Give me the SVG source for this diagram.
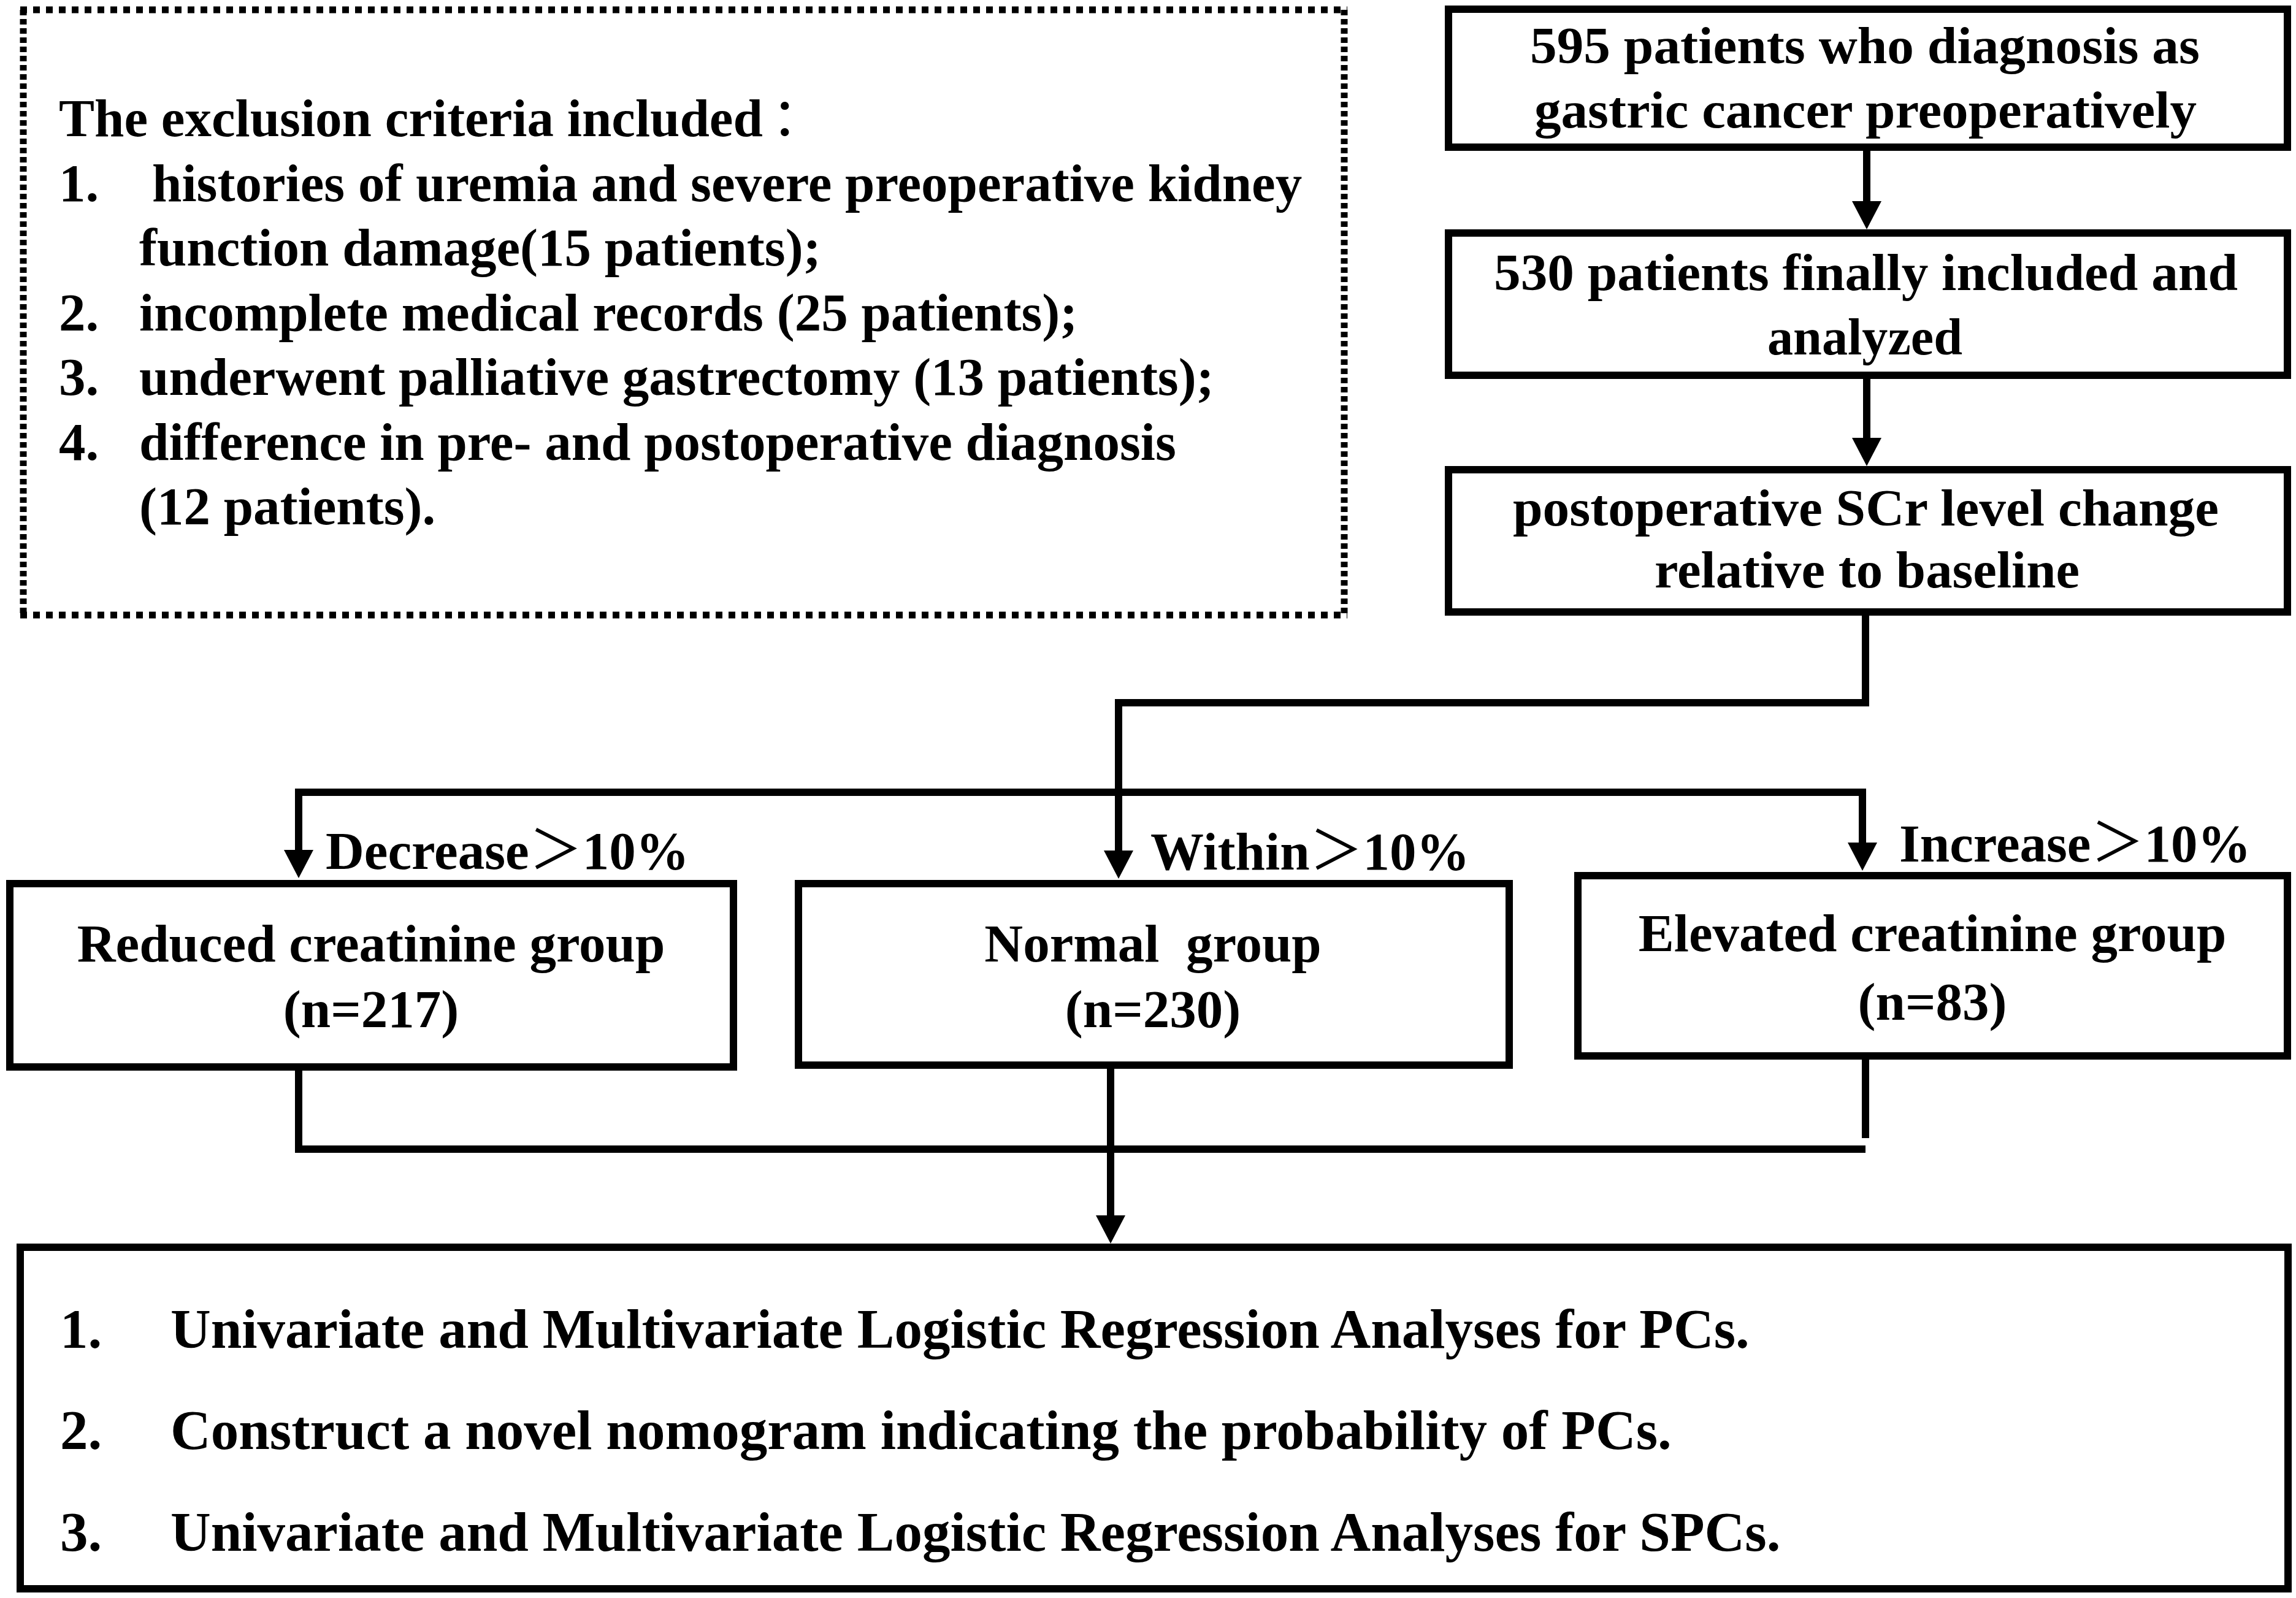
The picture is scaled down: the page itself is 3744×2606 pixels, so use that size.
<svg xmlns="http://www.w3.org/2000/svg" width="3744" height="2606" viewBox="0 0 3744 2606">
<style>
.t{font-family:"Liberation Serif","Times New Roman",serif;font-weight:bold;fill:#000}
.cjk{font-family:"Noto Sans CJK SC",sans-serif;font-weight:normal}
.box{fill:#fff;stroke:#000;stroke-width:12}
.dh{fill:none;stroke:#000;stroke-width:11;stroke-dasharray:11 10}
.dv{fill:none;stroke:#000;stroke-width:11;stroke-dasharray:9 6}
.conn{fill:none;stroke:#000;stroke-width:12;stroke-linejoin:miter}
.s87{font-size:87px}
.s85{font-size:85px}
.s91{font-size:91px}
</style>
<defs>
<marker id="ah" markerUnits="userSpaceOnUse" viewBox="0 0 46 48" markerWidth="46" markerHeight="48" refX="0" refY="24" orient="auto">
<path d="M0,0 L46,24 L0,48 z" fill="#000"/>
</marker>
</defs>
<rect width="3744" height="2606" fill="#fff"/>

<g id="exclusion">
<path class="dh" d="M33,16 H2197 M33,1003 H2197"/>
<path class="dv" d="M38,16 V1003 M2192,16 V1003"/>
<text class="t s87" x="96" y="222">The exclusion criteria included<tspan class="cjk" dx="14">：</tspan></text>
<text class="t s87" x="96" y="328">1.</text>
<text class="t s87" x="248" y="328">histories of uremia and severe preoperative kidney</text>
<text class="t s87" x="227" y="433">function damage(15 patients);</text>
<text class="t s87" x="96" y="539">2.</text>
<text class="t s87" x="227" y="539">incomplete medical records (25 patients);</text>
<text class="t s87" x="96" y="644">3.</text>
<text class="t s87" x="227" y="644">underwent palliative gastrectomy (13 patients);</text>
<text class="t s87" x="96" y="750">4.</text>
<text class="t s87" x="227" y="750">difference in pre- and postoperative diagnosis</text>
<text class="t s87" x="227" y="855">(12 patients).</text>
</g>

<g id="n595">
<rect class="box" x="2362" y="15" width="1368" height="225"/>
<text class="t s85" x="2495" y="103" textLength="1092" lengthAdjust="spacingAndGlyphs">595 patients who diagnosis as</text>
<text class="t s85" x="2502" y="208" textLength="1080" lengthAdjust="spacingAndGlyphs">gastric cancer preoperatively</text>
</g>

<g id="n530">
<rect class="box" x="2362" y="380" width="1368" height="232"/>
<text class="t s85" x="2436" y="473" textLength="1213" lengthAdjust="spacingAndGlyphs">530 patients finally included and</text>
<text class="t s85" x="2882" y="578" textLength="318" lengthAdjust="spacingAndGlyphs">analyzed</text>
</g>

<g id="nscr">
<rect class="box" x="2362" y="766" width="1368" height="232"/>
<text class="t s85" x="2467" y="857" textLength="1151" lengthAdjust="spacingAndGlyphs">postoperative SCr level change</text>
<text class="t s85" x="2698" y="958" textLength="693" lengthAdjust="spacingAndGlyphs">relative to baseline</text>
</g>

<g id="reduced">
<rect class="box" x="16" y="1441" width="1180" height="299"/>
<text class="t s87" x="605" y="1568" text-anchor="middle">Reduced creatinine group</text>
<text class="t s87" x="605" y="1675" text-anchor="middle">(n=217)</text>
</g>

<g id="normal">
<rect class="box" x="1302" y="1441" width="1159" height="296"/>
<text class="t s87" x="1880" y="1568" text-anchor="middle" xml:space="preserve">Normal  group</text>
<text class="t s87" x="1880" y="1675" text-anchor="middle">(n=230)</text>
</g>

<g id="elevated">
<rect class="box" x="2573" y="1428" width="1157" height="294"/>
<text class="t s87" x="3151" y="1551" text-anchor="middle">Elevated creatinine group</text>
<text class="t s87" x="3151" y="1663" text-anchor="middle">(n=83)</text>
</g>

<g id="analysis">
<rect class="box" x="33" y="2034" width="3698" height="557"/>
<text class="t s91" x="98" y="2198">1.</text>
<text class="t s91" x="278" y="2198">Univariate and Multivariate Logistic Regression Analyses for PCs.</text>
<text class="t s91" x="98" y="2363">2.</text>
<text class="t s91" x="278" y="2363">Construct a novel nomogram indicating the probability of PCs.</text>
<text class="t s91" x="98" y="2529">3.</text>
<text class="t s91" x="278" y="2529">Univariate and Multivariate Logistic Regression Analyses for SPCs.</text>
</g>

<g id="connectors">
<path class="conn" d="M3044,240 V328" marker-end="url(#ah)"/>
<path class="conn" d="M3044,612 V714" marker-end="url(#ah)"/>
<path class="conn" d="M3042,998 V1146 H1824 V1387" marker-end="url(#ah)"/>
<path class="conn" d="M1830,1292 H487 V1386" marker-end="url(#ah)"/>
<path class="conn" d="M1818,1292 H3037 V1374" marker-end="url(#ah)"/>
<path class="conn" d="M487,1740 V1874 H3042"/>
<path class="conn" d="M3042,1722 V1856"/>
<path class="conn" d="M1811,1737 V1982" marker-end="url(#ah)"/>
<text class="t s87" x="531" y="1417">Decrease<tspan class="cjk">＞</tspan>10%</text>
<text class="t s87" x="1876" y="1418">Within<tspan class="cjk">＞</tspan>10%</text>
<text class="t s87" x="3097" y="1405">Increase<tspan class="cjk">＞</tspan>10%</text>
</g>
</svg>
